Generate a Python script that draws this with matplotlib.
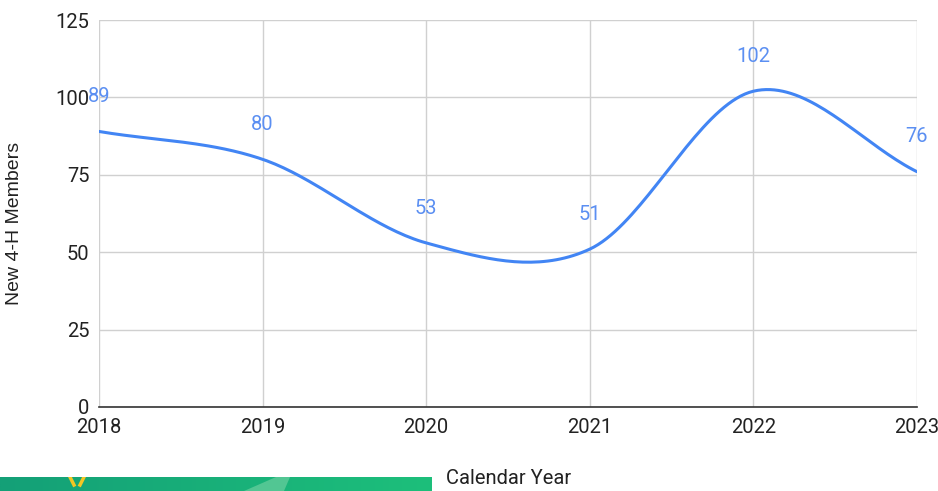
import numpy as np
import matplotlib
matplotlib.use("Agg")
import matplotlib.pyplot as plt
from matplotlib.colors import LinearSegmentedColormap
from matplotlib.patches import Polygon

# Data
years = [2018, 2019, 2020, 2021, 2022, 2023]
new_members = [89, 80, 53, 51, 102, 76]
y_ticks = [0, 25, 50, 75, 100, 125]

plt.rcParams["font.family"] = ["Roboto", "DejaVu Sans"]

line_color = "#4285f4"
label_color = "#5b8ff2"
grid_color = "#d0d0d0"
text_color = "#222222"


def smooth_curve(x, y, steps=40):
    # Catmull-Rom style smoothing, similar to the spreadsheet "smooth" line
    x = np.asarray(x, float)
    y = np.asarray(y, float)
    px = np.concatenate([[2 * x[0] - x[1]], x, [2 * x[-1] - x[-2]]])
    py = np.concatenate([[2 * y[0] - y[1]], y, [2 * y[-1] - y[-2]]])
    xs, ys = [], []
    t = np.linspace(0, 1, steps)
    for i in range(1, len(px) - 2):
        for p, out in ((px, xs), (py, ys)):
            p0, p1, p2, p3 = p[i - 1], p[i], p[i + 1], p[i + 2]
            seg = 0.5 * ((2 * p1) + (-p0 + p2) * t
                         + (2 * p0 - 5 * p1 + 4 * p2 - p3) * t ** 2
                         + (-p0 + 3 * p1 - 3 * p2 + p3) * t ** 3)
            out.extend(seg)
    return np.array(xs), np.array(ys)


fig = plt.figure(figsize=(9.38, 4.91), dpi=100)
ax = fig.add_axes([99 / 938, 84 / 491, 818 / 938, 387 / 491])

sx, sy = smooth_curve(years, new_members)
ax.plot(sx, sy, color=line_color, linewidth=2.2, solid_capstyle="round", zorder=3)

for x, v in zip(years, new_members):
    ax.annotate(str(v), (x, v), xytext=(0, 25), textcoords="offset points",
                ha="center", va="center", color=label_color, fontsize=14.5,
                annotation_clip=False, zorder=4)

ax.set_xlim(2018, 2023)
ax.set_ylim(0, 125)
ax.set_xticks(years)
ax.set_yticks(y_ticks)
ax.grid(True, color=grid_color, linewidth=1)
ax.set_axisbelow(True)
for side in ["top", "right", "left"]:
    ax.spines[side].set_visible(False)
ax.spines["bottom"].set_color("#333333")
ax.spines["bottom"].set_linewidth(1.2)
ax.spines["bottom"].set_zorder(2)
ax.tick_params(length=0, labelsize=14.5, colors=text_color)
ax.tick_params(axis="x", pad=8)
ax.tick_params(axis="y", pad=7)

fig.text(509 / 938, 1 - 479 / 491, "Calendar Year", fontsize=14.5,
         color=text_color, ha="center", va="center")
fig.text(15 / 938, 1 - 223 / 491, "New 4-H Members", fontsize=14,
         family=["Liberation Sans", "DejaVu Sans"], rotation=90,
         color=text_color, ha="center", va="center")

# green banner fragment in the bottom-left corner
bax = fig.add_axes([0, 0, 432 / 938, 14 / 491])
cmap = LinearSegmentedColormap.from_list("g", ["#14a077", "#1dbf7b"])
bax.imshow(np.linspace(0, 1, 200)[None, :], aspect="auto", cmap=cmap,
           extent=[0, 432, 0, 14])
bax.add_patch(Polygon([[244, 0], [276, 14], [290, 14], [284, 0]],
                      closed=True, color="#52c693", lw=0))
bax.plot([70, 74], [14, 6], color="#f3c623", lw=2.5)
bax.plot([84, 80], [14, 6], color="#f3c623", lw=2.5)
bax.set_xlim(0, 432)
bax.set_ylim(0, 14)
bax.axis("off")

fig.savefig("out.png", dpi=100)
